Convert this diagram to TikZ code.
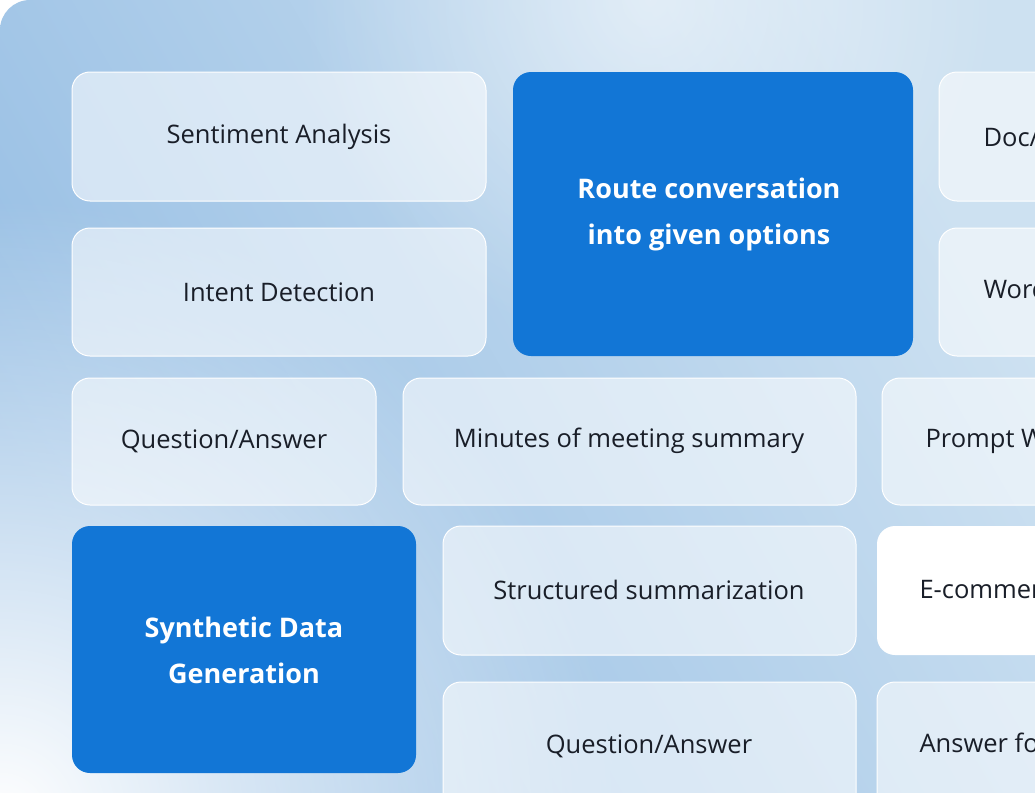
\documentclass[tikz,border=0pt]{standalone}
\usepackage{fontspec}
\setmainfont{Open Sans}
\usetikzlibrary{fadings}
\tikzfading[name=radfade, inner color=transparent!0, outer color=transparent!100]
\definecolor{bgA}{RGB}{150,190,228}
\definecolor{bgB}{RGB}{205,225,241}
\definecolor{tileblue}{RGB}{18,118,214}
\definecolor{txt}{RGB}{25,30,40}
\tikzset{
  tile/.style={draw=white, line width=1pt, fill=white, fill opacity=0.55, text opacity=1, rounded corners=18pt},
  btile/.style={fill=tileblue, rounded corners=18pt},
  wtile/.style={fill=white, rounded corners=18pt},
  lbl/.style={text=txt, font=\fontsize{25.5}{28}\selectfont},
  blbl/.style={text=white, font=\fontsize{27}{46}\selectfont\bfseries, align=center},
}
\begin{document}
\begin{tikzpicture}[x=1pt,y=-1pt]
\useasboundingbox (0,0) rectangle (1035,792);
\clip (0,0) rectangle (1035,792);
\fill[white] (0,0) rectangle (1035,792);
\begin{scope}
\clip[rounded corners=30pt] (0,0) rectangle (1065,830);
\shade[left color=bgA, right color=bgB, shading angle=120] (0,0) rectangle (1035,792);
\fill[white, path fading=radfade] (0,820) circle (620);
\fill[white, path fading=radfade, opacity=0.5] (650,0) circle (350);
\end{scope}
% tiles
\path[tile] (72,72) rectangle (486,201);
\node[lbl] (t1) at (279,137) {Sentiment Analysis};
\path[btile] (513,72) rectangle (913,356);
\node[blbl] (t2) at (709,214) {Route conversation\\into given options};
\path[tile] (939,72) rectangle (1400,201);
\node[lbl, anchor=west] (t3) at (980,137) {Doc/PDF Extraction};
\path[tile] (72,228) rectangle (486,356);
\node[lbl] (t4) at (279,292) {Intent Detection};
\path[tile] (939,228) rectangle (1400,356);
\node[lbl, anchor=west] (t5) at (980,292) {Word Counting};
\path[tile] (72,378) rectangle (376,505);
\node[lbl] (t6) at (224,441) {Question/Answer};
\path[tile] (403,378) rectangle (856,505);
\node[lbl] (t7) at (629,441) {Minutes of meeting summary};
\path[tile] (882,378) rectangle (1400,505);
\node[lbl, anchor=west] (t8) at (922,441) {Prompt Writing};
\path[btile] (72,526) rectangle (416,773);
\node[blbl] (t9) at (244,650) {Synthetic Data\\Generation};
\path[tile] (443,526) rectangle (856,655);
\node[lbl] (t10) at (649,590) {Structured summarization};
\path[wtile] (877,526) rectangle (1400,655);
\node[lbl, anchor=west] (t11) at (916,590) {E-commerce};
\path[tile] (443,682) rectangle (856,830);
\node[lbl] (t12) at (649,746) {Question/Answer};
\path[tile] (877,682) rectangle (1400,830);
\node[lbl, anchor=west] (t13) at (916,746) {Answer formatting};
\end{tikzpicture}
\end{document}
